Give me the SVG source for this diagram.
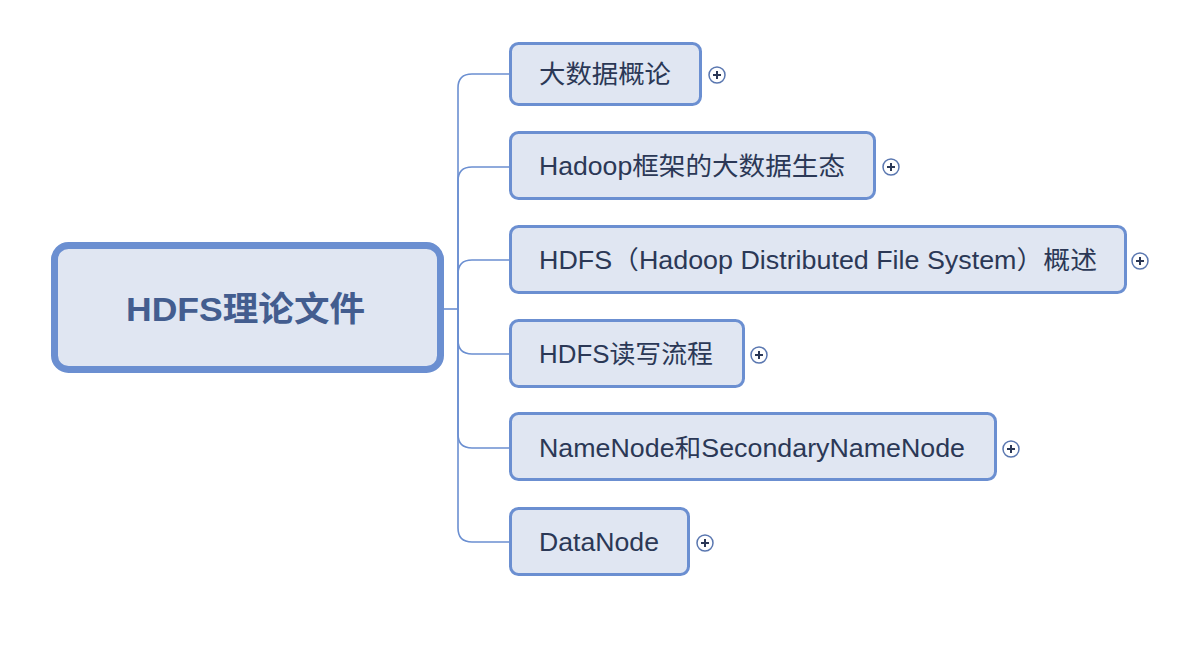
<svg xmlns="http://www.w3.org/2000/svg" width="1188" height="648" viewBox="0 0 1188 648">
<style>
.node{fill:#e0e6f2;stroke:#6b8fd1;stroke-width:3}
.root{fill:#e0e6f2;stroke:#6b8fd1;stroke-width:7}
.lbl{font-family:"Liberation Sans","Noto Sans CJK SC",sans-serif;font-size:25.5px;fill:#2b3856}
.rlbl{font-family:"Liberation Sans","Noto Sans CJK SC",sans-serif;font-size:34px;font-weight:bold;fill:#435d8f}
.conn{fill:none;stroke:#6b8fd1;stroke-width:1.6}
.pc{fill:#ffffff;stroke:#5a77b0;stroke-width:1.5}
.pl{stroke:#2b3856;stroke-width:2}
</style>
<rect width="1188" height="648" fill="#ffffff"/>
<g id="connectors">
<path class="conn" d="M444,309 H458"/>
<path class="conn" d="M458,309 V88 Q458,74 472,74 H509"/>
<path class="conn" d="M458,309 V181 Q458,167 472,167 H509"/>
<path class="conn" d="M458,309 V274 Q458,260 472,260 H509"/>
<path class="conn" d="M458,309 V340 Q458,354 472,354 H509"/>
<path class="conn" d="M458,309 V434 Q458,448 472,448 H509"/>
<path class="conn" d="M458,309 V528 Q458,542 472,542 H509"/>
</g>
<g id="root">
<rect class="root" x="54.5" y="245.5" width="386" height="124" rx="14"/>
<text class="rlbl" x="245.5" y="321" text-anchor="middle" textLength="239" lengthAdjust="spacingAndGlyphs">HDFS理论文件</text>
</g>
<g id="n1">
<rect class="node" x="510.5" y="43.5" width="190" height="61" rx="8"/>
<text class="lbl" x="539" y="83" textLength="132" lengthAdjust="spacingAndGlyphs">大数据概论</text>
<circle class="pc" cx="717" cy="75" r="8"/>
<path class="pl" d="M713,75 H721 M717,71 V79"/>
</g>
<g id="n2">
<rect class="node" x="510.5" y="132.5" width="364" height="66" rx="8"/>
<text class="lbl" x="539" y="175" textLength="306" lengthAdjust="spacingAndGlyphs">Hadoop框架的大数据生态</text>
<circle class="pc" cx="891" cy="167" r="8"/>
<path class="pl" d="M887,167 H895 M891,163 V171"/>
</g>
<g id="n3">
<rect class="node" x="510.5" y="226.5" width="615" height="66" rx="8"/>
<text class="lbl" x="539" y="269" textLength="558" lengthAdjust="spacingAndGlyphs">HDFS（Hadoop Distributed File System）概述</text>
<circle class="pc" cx="1140" cy="261" r="8"/>
<path class="pl" d="M1136,261 H1144 M1140,257 V265"/>
</g>
<g id="n4">
<rect class="node" x="510.5" y="320.5" width="233" height="66" rx="8"/>
<text class="lbl" x="539" y="363" textLength="174" lengthAdjust="spacingAndGlyphs">HDFS读写流程</text>
<circle class="pc" cx="759" cy="355" r="8"/>
<path class="pl" d="M755,355 H763 M759,351 V359"/>
</g>
<g id="n5">
<rect class="node" x="510.5" y="413.5" width="485" height="66" rx="8"/>
<text class="lbl" x="539" y="457" textLength="426" lengthAdjust="spacingAndGlyphs">NameNode和SecondaryNameNode</text>
<circle class="pc" cx="1011" cy="449" r="8"/>
<path class="pl" d="M1007,449 H1015 M1011,445 V453"/>
</g>
<g id="n6">
<rect class="node" x="510.5" y="508.5" width="178" height="66" rx="8"/>
<text class="lbl" x="539" y="551" textLength="120" lengthAdjust="spacingAndGlyphs">DataNode</text>
<circle class="pc" cx="705" cy="543" r="8"/>
<path class="pl" d="M701,543 H709 M705,539 V547"/>
</g>
</svg>
